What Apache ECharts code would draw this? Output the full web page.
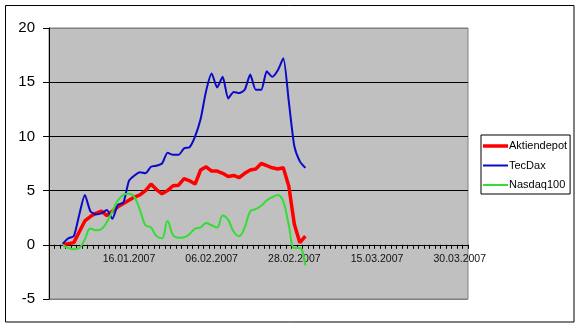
<!DOCTYPE html>
<html>
<head>
<meta charset="utf-8">
<script src="https://cdn.jsdelivr.net/npm/echarts@6/dist/echarts.min.js"></script>
<style>
html,body{margin:0;padding:0;background:#fff;}
#chart{width:580px;height:327px;}
</style>
</head>
<body>
<div id="chart"></div>
<script>
// Category dates (trading days, then calendar days in March)
var categories = [
"22.12.2006","27.12.2006","28.12.2006","29.12.2006","02.01.2007","03.01.2007","04.01.2007","05.01.2007",
"08.01.2007","09.01.2007","10.01.2007","11.01.2007","12.01.2007","15.01.2007","16.01.2007","17.01.2007",
"18.01.2007","19.01.2007","22.01.2007","23.01.2007","24.01.2007","25.01.2007","26.01.2007","29.01.2007",
"30.01.2007","31.01.2007","01.02.2007","02.02.2007","05.02.2007","06.02.2007","07.02.2007","08.02.2007",
"09.02.2007","12.02.2007","13.02.2007","14.02.2007","15.02.2007","16.02.2007","20.02.2007","21.02.2007",
"22.02.2007","23.02.2007","26.02.2007","27.02.2007","28.02.2007","01.03.2007","02.03.2007","03.03.2007",
"04.03.2007","05.03.2007","06.03.2007","07.03.2007","08.03.2007","09.03.2007","10.03.2007","11.03.2007",
"12.03.2007","13.03.2007","14.03.2007","15.03.2007","16.03.2007","17.03.2007","18.03.2007","19.03.2007",
"20.03.2007","21.03.2007","22.03.2007","23.03.2007","24.03.2007","25.03.2007","26.03.2007","27.03.2007",
"28.03.2007","29.03.2007","30.03.2007","31.03.2007"
];
var shownLabels = ["16.01.2007","06.02.2007","28.02.2007","15.03.2007","30.03.2007"];

var aktiendepot = [null,null,0.0,0.1,0.2,1.2,2.2,2.6,2.9,3.1,2.7,3.1,3.5,3.8,4.1,4.4,4.6,5.0,5.6,5.1,4.7,5.0,5.45,5.5,6.1,5.9,5.6,6.9,7.2,6.8,6.8,6.6,6.3,6.4,6.2,6.6,6.9,7.0,7.5,7.3,7.1,7.0,7.1,5.4,1.9,0.2,0.8];
var tecdax = [null,null,0.1,0.6,0.8,2.8,4.6,3.1,2.8,2.9,3.2,2.4,3.7,3.9,5.9,6.4,6.7,6.6,7.2,7.3,7.5,8.5,8.3,8.3,8.9,9.0,10.0,11.6,14.2,15.8,14.5,15.5,13.5,14.1,14.0,14.3,15.7,14.3,14.3,16.0,15.5,16.1,17.2,13.2,9.1,7.7,7.1];
var nasdaq100 = [null,null,0.0,-0.3,-0.4,-0.3,0.5,1.5,1.35,1.45,2.1,3.1,4.1,4.6,4.7,4.4,3.2,1.8,1.6,0.8,0.6,2.2,0.9,0.65,0.7,1.0,1.5,1.6,2.0,1.8,1.6,2.7,2.3,1.2,0.8,1.6,3.1,3.3,3.6,4.1,4.4,4.6,4.0,1.8,-0.3,-0.3,-1.9];
var yTicks = [-5, 0, 5, 10, 15, 20];

var FONT = '"Liberation Sans", Arial, sans-serif';
var GRID = {left: 49, top: 28, width: 419, height: 271};
var chart = echarts.init(document.getElementById('chart'), null, {renderer:'canvas'});
var option = {
  animation: false,
  backgroundColor: '#ffffff',
  graphic: [{
    type: 'rect', silent: true, z: 100,
    shape: {x: 5.5, y: 5.5, width: 568.5, height: 316.5},
    style: {fill: 'none', stroke: '#000', lineWidth: 1}
  }],
  grid: {
    left: GRID.left, top: GRID.top, width: GRID.width, height: GRID.height,
    show: true, backgroundColor: '#C0C0C0', borderColor: '#808080', borderWidth: 1
  },
  legend: {
    orient: 'vertical', left: 481, top: 135,
    padding: [5, 3, 3, 2],
    backgroundColor: '#fff', borderColor: '#000', borderWidth: 1,
    itemWidth: 25, itemHeight: 12, itemGap: 7.5,
    symbolKeepAspect: true,
    textStyle: {fontFamily: FONT, fontSize: 11, color: '#000', lineHeight: 12, padding: [0, 0, 0, -4]},
    data: [
      {name: 'Aktiendepot', icon: 'path://M0 0H25V3.5H0Z'},
      {name: 'TecDax', icon: 'path://M0 0H25V2H0Z'},
      {name: 'Nasdaq100', icon: 'path://M0 0H25V2H0Z'}
    ]
  },
  xAxis: {
    type: 'category', data: categories, boundaryGap: true,
    axisLine: {onZero: false, lineStyle: {color: '#000', width: 1}},
    axisTick: {show: true, interval: 0, length: 4, lineStyle: {color: '#000'}},
    axisLabel: {
      interval: function (i, v) { return shownLabels.indexOf(v) >= 0; },
      fontFamily: FONT, fontSize: 10.5, color: '#111', margin: 9
    },
    splitLine: {show: false}
  },
  yAxis: {
    type: 'value', min: yTicks[0], max: yTicks[yTicks.length - 1], interval: 5,
    axisLine: {show: true, lineStyle: {color: '#000'}},
    axisTick: {show: true, length: 6, lineStyle: {color: '#000'}},
    axisLabel: {fontFamily: FONT, fontSize: 15, color: '#000', margin: 14},
    splitLine: {show: true, lineStyle: {color: ['#808080', '#000', '#000', '#000', '#000', '#808080'], width: 1}}
  },
  series: [
    {name: 'Aktiendepot', type: 'line', data: aktiendepot, symbol: 'none',
     lineStyle: {color: '#FF0000', width: 3.5}, itemStyle: {color: '#FF0000'}},
    {name: 'TecDax', type: 'line', data: tecdax, symbol: 'none', smooth: 0.2,
     lineStyle: {color: '#0A0AC8', width: 2}, itemStyle: {color: '#0A0AC8'}},
    {name: 'Nasdaq100', type: 'line', data: nasdaq100, symbol: 'none', smooth: 0.4,
     lineStyle: {color: '#33DD33', width: 2}, itemStyle: {color: '#33DD33'}}
  ]
};
chart.setOption(option);
// Move the category axis (line, ticks, labels) to the zero line like the original
var y0 = chart.convertToPixel({yAxisIndex: 0}, 0);
var gridBottom = GRID.top + GRID.height;
chart.setOption({xAxis: {offset: -(gridBottom - y0)}});
</script>
</body>
</html>
